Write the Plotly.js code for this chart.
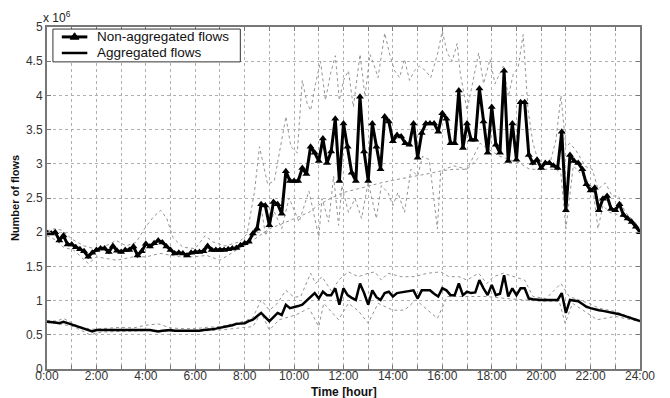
<!DOCTYPE html>
<html>
<head>
<meta charset="utf-8">
<script src="https://cdn.plot.ly/plotly-3.0.1.min.js"></script>
<style>html,body{margin:0;padding:0;background:#fff;}#chart{width:670px;height:398px;}</style>
</head>
<body>
<div id="chart"></div>
<script>
// Time axis: 10-minute samples, in hours
var stepsPerHour = 6;
var hourTickVals = [0,2,4,6,8,10,12,14,16,18,20,22,24];
var hourTickText = ['0:00','2:00','4:00','6:00','8:00','10:00','12:00','14:00','16:00','18:00','20:00','22:00','24:00'];
var seriesNames = ['Non-aggregated flows', 'Aggregated flows'];

// Non-aggregated flows (x 10^6), one value per 10 minutes
var nonAggregated = [
  1.99,1.98,2.00,1.88,1.95,1.82,
  1.82,1.78,1.75,1.72,1.64,1.70,
  1.74,1.76,1.76,1.71,1.80,1.73,
  1.71,1.74,1.74,1.79,1.66,1.72,
  1.83,1.79,1.84,1.88,1.85,1.79,
  1.74,1.69,1.70,1.69,1.66,1.70,
  1.71,1.71,1.72,1.80,1.74,1.74,
  1.74,1.74,1.75,1.76,1.77,1.81,
  1.84,1.86,1.98,2.05,2.41,2.39,
  2.10,2.44,2.41,2.27,2.89,2.75,
  2.75,2.75,2.94,2.85,3.25,3.16,
  3.04,3.37,3.01,3.18,3.66,2.75,
  3.59,3.25,2.87,2.75,3.98,3.18,
  2.75,3.59,3.25,2.92,3.69,3.62,
  3.33,3.42,3.40,3.30,3.28,3.59,
  3.09,3.45,3.59,3.59,3.59,3.47,
  3.74,3.66,3.30,3.30,4.07,3.23,
  3.59,3.35,3.35,4.10,3.62,3.16,
  3.83,3.28,3.16,4.36,3.04,3.59,
  3.06,3.90,3.90,3.13,3.01,3.06,
  2.94,3.01,3.01,2.97,2.94,3.47,
  2.32,3.13,3.04,3.01,2.92,2.70,
  2.61,2.65,2.32,2.49,2.53,2.34,
  2.32,2.41,2.25,2.20,2.15,2.08,
  2.00
];

// Aggregated flows (x 10^6), one value per 10 minutes
var aggregated = [
  0.69,0.69,0.68,0.67,0.69,0.67,
  0.65,0.64,0.62,0.60,0.58,0.55,
  0.57,0.57,0.57,0.57,0.57,0.57,
  0.57,0.57,0.57,0.58,0.57,0.57,
  0.57,0.57,0.56,0.55,0.56,0.57,
  0.57,0.56,0.56,0.55,0.56,0.56,
  0.56,0.56,0.57,0.57,0.58,0.59,
  0.60,0.61,0.62,0.64,0.66,0.66,
  0.67,0.70,0.72,0.77,0.82,0.76,
  0.70,0.76,0.82,0.79,0.94,0.89,
  0.90,0.92,0.94,1.00,1.06,1.11,
  1.03,1.13,1.08,1.08,1.18,0.94,
  1.18,1.08,1.04,1.01,1.25,1.11,
  0.94,1.15,1.05,1.01,1.11,1.13,
  1.06,1.11,1.12,1.13,1.13,1.15,
  1.03,1.15,1.15,1.15,1.10,1.06,
  1.18,1.15,1.08,1.08,1.25,1.08,
  1.13,1.11,1.12,1.30,1.18,1.08,
  1.23,1.08,1.10,1.37,1.06,1.18,
  1.08,1.18,1.18,1.03,1.02,1.01,
  1.01,1.01,1.01,1.01,1.01,1.11,
  0.82,1.01,1.00,0.99,0.95,0.91,
  0.89,0.87,0.86,0.85,0.84,0.83,
  0.82,0.80,0.78,0.76,0.74,0.72,
  0.70
];

// Dotted reference curves (hours, values x 10^6)
var nonAggUpperT = [0,0.3,0.6,1.0,1.5,2.0,2.5,2.8,3.2,3.6,4.0,4.3,4.6,4.85,5.1,5.5,6.0,6.4,6.7,7.2,7.8,8.1,8.4,8.6,8.93,9.2,9.67,9.87,10.13,10.33,10.53,10.67,10.87,11.07,11.27,11.47,11.67,11.83,12.0,12.2,12.4,12.67,12.87,13.07,13.2,13.4,13.67,13.87,14.07,14.27,14.47,14.67,14.87,15.07,15.33,15.53,15.8,16.0,16.2,16.4,16.6,16.73,17.0,17.47,17.67,17.93,18.13,18.47,18.67,18.87,19.07,19.27,19.47,19.67,19.95,20.35,20.6,20.8,21.0,21.16,21.4,21.8,22.07,22.3,22.6,22.87,23.13,23.4,23.8,24.0];
var nonAggUpperV = [2.02,2.05,2.03,1.90,1.80,1.75,1.82,1.88,1.80,1.85,2.08,2.22,2.32,2.20,1.92,1.78,1.76,1.95,1.86,1.80,1.86,1.98,2.60,3.25,2.70,2.75,3.69,3.25,3.16,4.22,3.88,3.78,4.17,4.50,3.93,4.31,4.58,3.93,4.22,4.36,3.83,4.60,3.98,4.60,4.48,4.26,4.91,4.60,4.36,4.26,4.53,4.22,4.36,4.43,4.36,4.26,4.60,4.94,4.62,4.50,4.76,4.31,3.78,4.62,4.17,4.53,4.17,4.43,3.98,4.31,4.41,4.89,3.78,3.30,2.96,3.00,3.35,4.00,3.25,3.30,3.20,2.96,2.92,2.63,2.72,2.53,2.53,2.29,2.15,2.00];

var nonAggLowerT = [0,0.39,0.66,1.07,1.68,2.0,2.82,3.49,4.03,4.57,5.38,5.92,6.46,7.0,7.54,8.08,8.5,8.67,8.85,9.2,9.5,9.8,10.2,10.6,11.0,11.13,11.4,11.6,11.8,11.93,12.2,12.47,12.73,13.0,13.33,13.53,13.8,14.0,14.2,14.47,14.73,15.0,15.2,15.47,15.8,15.93,16.07,16.47,17.0,17.27,17.53,17.93,18.33,18.73,19.13,19.53,19.8,20.2,20.6,20.8,21.0,21.3,21.57,21.83,22.1,22.3,22.5,22.77,23.17,23.43,23.83,24.0];
var nonAggLowerV = [1.95,1.88,1.78,1.74,1.54,1.64,1.59,1.64,1.64,1.69,1.64,1.64,1.66,1.59,1.71,1.83,2.00,2.35,1.95,2.30,2.05,2.50,2.15,2.60,1.93,2.49,2.15,2.82,2.10,2.68,2.29,2.49,2.20,2.73,2.20,2.68,2.58,2.39,2.58,2.29,2.92,2.82,3.11,3.06,2.05,2.87,2.92,2.97,2.92,3.11,3.30,3.20,3.11,3.06,3.01,2.92,2.92,2.92,2.92,2.85,2.05,2.97,2.87,2.77,2.63,2.05,2.39,2.29,2.25,2.20,2.10,2.00];

var nonAggSmoothT = [8.0,8.5,9.0,9.5,10.0,10.6,11.0,11.5,12.0,12.5,13.0,13.5,14.0,14.5,15.0,15.5,16.0,16.5,17.0,17.5];
var nonAggSmoothV = [1.80,1.92,2.05,2.12,2.20,2.29,2.40,2.50,2.58,2.63,2.68,2.72,2.76,2.79,2.82,2.86,2.90,2.92,2.92,3.10];

var aggUpperT = [0,0.4,0.66,1.0,1.3,1.8,2.5,3.0,3.5,4.0,4.5,5.0,5.5,6.0,6.5,7.0,7.5,8.0,8.33,8.67,9.0,9.3,9.67,10.0,10.27,10.67,10.87,11.13,11.53,11.8,12.2,12.6,13.0,13.27,13.53,13.8,14.33,14.87,15.4,15.93,16.27,16.67,17.0,17.47,17.8,18.07,18.47,18.87,19.33,19.67,20.2,20.8,21.13,21.93,22.33,23.0,23.93,24.0];
var aggUpperV = [0.71,0.70,0.74,0.68,0.62,0.58,0.60,0.61,0.60,0.64,0.66,0.60,0.59,0.59,0.61,0.62,0.66,0.70,0.75,1.01,0.86,0.95,1.15,1.05,1.06,1.40,1.25,1.35,1.13,1.30,1.42,1.35,1.40,1.42,1.30,1.40,1.35,1.35,1.40,1.42,1.35,1.35,1.30,1.40,1.25,1.35,1.40,1.35,1.30,1.06,1.03,1.25,1.06,0.96,0.89,0.84,0.72,0.71];

var aggLowerT = [0,0.5,1.07,1.74,2.2,3.0,4.0,5.0,6.0,7.0,7.8,8.33,8.67,9.0,9.4,10.07,10.6,11.0,11.2,11.8,12.2,12.6,13.0,13.4,14.0,14.47,14.93,15.8,16.2,17.0,17.8,18.6,19.4,20.0,20.73,20.97,21.27,22.27,23.0,23.93,24.0];
var aggLowerV = [0.68,0.66,0.62,0.50,0.54,0.55,0.56,0.55,0.55,0.57,0.60,0.62,0.82,0.57,0.72,0.79,0.89,0.62,0.96,0.72,0.96,0.85,0.67,0.96,0.86,0.86,1.01,0.74,1.06,1.06,1.06,1.03,1.01,0.99,0.99,0.67,0.96,0.72,0.77,0.70,0.69];

var timeHours = nonAggregated.map(function(_, i){ return i / stepsPerHour; });

var dotted = {color:'#949494', width:1, dash:'dot'};
function dottedTrace(t, v){
  return {x:t, y:v, type:'scatter', mode:'lines', line:dotted, showlegend:false, hoverinfo:'skip'};
}

var traces = [
  dottedTrace(nonAggUpperT, nonAggUpperV),
  dottedTrace(nonAggLowerT, nonAggLowerV),
  dottedTrace(nonAggSmoothT, nonAggSmoothV),
  dottedTrace(aggUpperT, aggUpperV),
  dottedTrace(aggLowerT, aggLowerV),
  {x:timeHours, y:nonAggregated, type:'scatter', mode:'lines+markers', name:seriesNames[0], showlegend:false,
   line:{color:'#000', width:3}, marker:{symbol:'triangle-up', size:7, color:'#000'}},
  {x:timeHours, y:aggregated, type:'scatter', mode:'lines', name:seriesNames[1], showlegend:false,
   line:{color:'#000', width:2.5}}
];

var gridStyle = {showgrid:true, gridcolor:'#b0b0b0', griddash:'dot', gridwidth:1};
var axisCommon = Object.assign({
  showline:true, linecolor:'#777', linewidth:2, mirror:'allticks',
  ticks:'inside', ticklen:4, tickcolor:'#777', tickwidth:1,
  zeroline:false, tickfont:{family:'Liberation Sans, Arial, sans-serif', size:12, color:'#333'}
}, gridStyle);

// Legend box (drawn by hand for a compact MATLAB-like look), paper coordinates
var lg = {x0:0.010, x1:0.326, y0:0.898, y1:0.994, lineX0:0.025, lineX1:0.068, row1:0.971, row2:0.924, textX:0.082};
var triW = 0.0075, triH = 0.011;
var triCx = (lg.lineX0 + lg.lineX1) / 2;
var legendShapes = [
  {type:'rect', xref:'paper', yref:'paper', x0:lg.x0, x1:lg.x1, y0:lg.y0, y1:lg.y1,
   line:{color:'#333', width:1}, fillcolor:'#fff', layer:'above'},
  {type:'line', xref:'paper', yref:'paper', x0:lg.lineX0, x1:lg.lineX1, y0:lg.row1, y1:lg.row1,
   line:{color:'#000', width:3}, layer:'above'},
  {type:'path', xref:'paper', yref:'paper', layer:'above', fillcolor:'#000', line:{color:'#000', width:1},
   path:'M '+(triCx-triW)+','+(lg.row1-triH*0.6)+' L '+(triCx+triW)+','+(lg.row1-triH*0.6)+' L '+triCx+','+(lg.row1+triH*1.1)+' Z'},
  {type:'line', xref:'paper', yref:'paper', x0:lg.lineX0, x1:lg.lineX1, y0:lg.row2, y1:lg.row2,
   line:{color:'#000', width:2.5}, layer:'above'}
];

var layout = {
  width:670, height:398,
  margin:{l:47, r:30, t:27, b:29},
  paper_bgcolor:'#fff', plot_bgcolor:'#fff',
  font:{family:'Liberation Sans, Arial, sans-serif', color:'#222'},
  showlegend:false,
  xaxis:Object.assign({}, axisCommon, {
    range:[0,24], tickmode:'array', tickvals:hourTickVals, ticktext:hourTickText,
    ticklabelstandoff:-5,
    minor:Object.assign({dtick:1, tick0:0, ticks:'inside', ticklen:4, tickcolor:'#777'}, gridStyle)
  }),
  yaxis:Object.assign({}, axisCommon, {
    range:[0,5], dtick:0.5, tick0:0,
    title:{text:'<b>Number of flows</b>', font:{size:11, color:'#111'}, standoff:4}
  }),
  shapes:legendShapes,
  annotations:[
    {xref:'paper', yref:'paper', x:-0.01, y:1.0, xanchor:'left', yanchor:'bottom',
     text:'x 10<sup>6</sup>', showarrow:false, font:{size:12, color:'#222'}},
    {xref:'paper', yref:'paper', x:0.5, y:-0.044, xanchor:'center', yanchor:'top', borderpad:0,
     text:'<b>Time [hour]</b>', showarrow:false, font:{size:12, color:'#111'}},
    {xref:'paper', yref:'paper', x:lg.textX, y:lg.row1, xanchor:'left', yanchor:'middle', borderpad:0,
     text:seriesNames[0], showarrow:false, font:{size:13.5, color:'#111'}},
    {xref:'paper', yref:'paper', x:lg.textX, y:lg.row2, xanchor:'left', yanchor:'middle', borderpad:0,
     text:seriesNames[1], showarrow:false, font:{size:13.5, color:'#111'}}
  ]
};

Plotly.newPlot('chart', traces, layout, {staticPlot:true, displayModeBar:false});
</script>
</body>
</html>
